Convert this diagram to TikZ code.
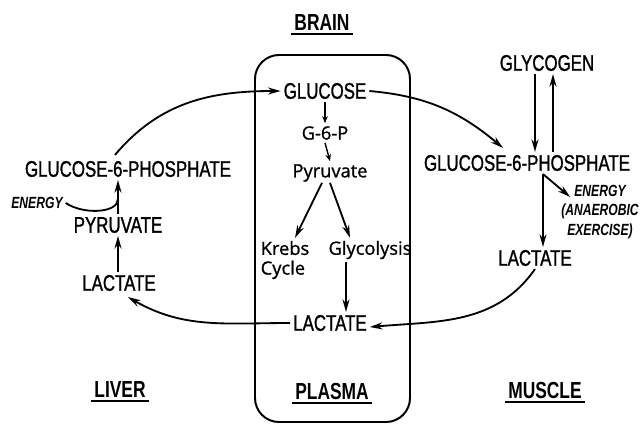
\documentclass[tikz,border=0pt]{standalone}
\usepackage{fontspec}
\setmainfont[FakeStretch=0.75]{Liberation Sans}
\newfontfamily\labelfont[FakeStretch=0.75,FakeBold=1.2]{Liberation Sans}
\newfontfamily\handfont[FakeBold=1]{Open Sans}
\usetikzlibrary{arrows.meta,positioning,calc}
\tikzset{
  label/.style={font=\labelfont\fontsize{16}{18}\selectfont,inner sep=2pt},
  title/.style={font=\fontsize{16.5}{18}\selectfont\bfseries,inner sep=2pt},
  hand/.style={font=\handfont\fontsize{13}{14}\selectfont,inner sep=2pt,align=left},
  note/.style={font=\fontsize{11.5}{14}\selectfont\bfseries\itshape,inner sep=2pt,align=center},
  flow/.style={->,>={Stealth[length=9pt,width=5pt]},line width=1.3pt},
  smallflow/.style={->,>={Stealth[length=5pt,width=4pt]},line width=1pt},
  uline/.style={line width=1.4pt},
  plasmabox/.style={draw,line width=1.4pt,rounded corners=0.6cm}
}
\begin{document}
\begin{tikzpicture}[x=0.025cm,y=0.025cm]
\useasboundingbox (0,0) rectangle (640,424);
\draw[plasmabox] (255,2) rectangle (410,369);
% titles
\node[title](brain) at (322,401){BRAIN};
\node[title](plasma) at (332,32){PLASMA};
\node[title](liver) at (120,34){LIVER};
\node[title](muscle) at (545,33){MUSCLE};
\foreach \t in {brain,plasma,liver,muscle}
  \draw[uline] (\t.south west) -- (\t.south east);
% brain / plasma
\node[label](glucB) at (325,333){GLUCOSE};
\node[hand](g6pB) at (325,291){G-6-P};
\node[hand](pyrB) at (330,251){Pyruvate};
\node[hand](krebs) at (285,164){Krebs\\Cycle};
\node[hand](glyc) at (370,174){Glycolysis};
\node[label](lacP) at (330,101){LACTATE};
% liver
\node[label](g6pL) at (128,255){GLUCOSE-6-PHOSPHATE};
\node[note](energyL) at (37,221){ENERGY};
\node[label](pyrL) at (118,199){PYRUVATE};
\node[label](lacL) at (119,141){LACTATE};
% muscle
\node[label](glycogen) at (547,361){GLYCOGEN};
\node[label](g6pM) at (527,261){GLUCOSE-6-PHOSPHATE};
\node[note](energyM) at (600,212){ENERGY\\(ANAEROBIC\\EXERCISE)};
\node[label](lacM) at (535,166){LACTATE};
% inside the brain
\draw[smallflow] (glucB.south) -- (g6pB.north);
\draw[smallflow] (g6pB.south) -- (pyrB.north);
\draw[flow] ($(pyrB.south)+(-8,2)$) -- ($(krebs.north)+(10,0)$);
\draw[flow] ($(pyrB.south)+(0,2)$) -- ($(glyc.north)+(-20,0)$);
\coordinate (gl) at ($(glyc.south)+(-24,0)$);
\draw[flow] (gl) -- (gl |- lacP.north);
% the cycle
\draw[flow] ($(g6pL.north)+(-13,3)$) to[out=50,in=180] (glucB.west);
\draw[flow] (glucB.east) to[out=-5,in=140] ($(g6pM.north)+(-24,4)$);
\coordinate (gdown) at ($(glycogen.south)+(-12,0)$);
\coordinate (gup) at ($(glycogen.south)+(6,0)$);
\draw[flow] (gdown) -- (gdown |- g6pM.north);
\draw[flow] (gup |- g6pM.north) -- (gup);
\coordinate (mturn) at ($(g6pM.south)+(16,0)$);
\draw[flow] (mturn) -- (mturn |- lacM.north);
\draw[flow] (mturn) -- ($(energyM.west)+(12,15)$);
\draw[flow] (lacM.south) to[out=-125,in=5] ($(lacP.east)+(0,-4)$);
\draw[flow] (lacP.west) to[out=180,in=-30] ($(lacL.south)+(9,-3)$);
\draw[flow] (lacL.north -| pyrL.south) -- (pyrL.south);
\draw[flow] (pyrL.north) -- (pyrL.north |- g6pL.south);
\coordinate (ejoin) at ($(pyrL.north)+(0,15)$);
\draw[line width=1.3pt] (energyL.east) .. controls +(18,-12) and +(0,-14) .. (ejoin);
\end{tikzpicture}
\end{document}
